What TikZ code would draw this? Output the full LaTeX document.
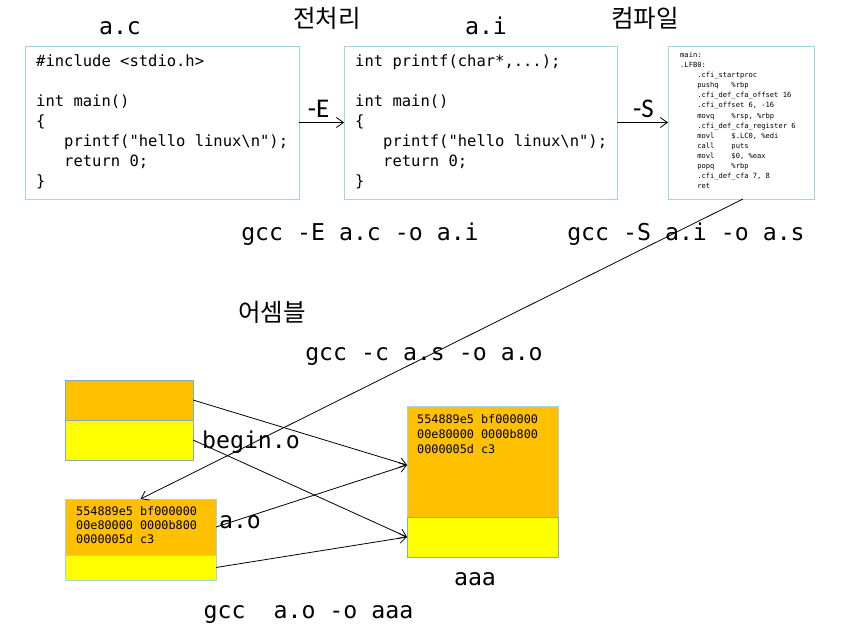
\documentclass[tikz,border=0pt]{standalone}
\usepackage{fontspec}
\newfontfamily\cons{DejaVu Sans Mono}
\newfontfamily\krfont{Noto Sans CJK KR}
\newfontfamily\calib{Carlito}
\usetikzlibrary{arrows.meta}
\definecolor{boxblue}{HTML}{A5D5E2}
\definecolor{boxgray}{HTML}{8FA8B8}
\definecolor{orng}{HTML}{FFC000}
\definecolor{yel}{HTML}{FFFF00}
\newcommand\tb[1]{\begin{tabular}[t]{@{}l@{}}#1\end{tabular}}
\begin{document}
\begin{tikzpicture}[x=1pt,y=-1pt,
  box/.style={draw=boxblue, line width=0.9pt, fill=white, inner sep=0pt, outer sep=0pt, anchor=north west},
  codetxt/.style={inner sep=0pt, anchor=base west, font=\cons\fontsize{15.5}{20}\selectfont},
  asmtxt/.style={inner sep=0pt, anchor=base west, font=\cons\fontsize{7.1}{10.1}\selectfont},
  hextxt/.style={inner sep=0pt, anchor=base west, font=\cons\fontsize{11.8}{14}\selectfont},
  title/.style={inner sep=0pt, anchor=base, font=\cons\fontsize{23.2}{28}\selectfont},
  krlabel/.style={inner sep=0pt, font=\krfont\fontsize{24.5}{28}\selectfont},
  flag/.style={inner sep=0pt, anchor=base, font=\calib\fontsize{27}{30}\selectfont},
  arr/.style={line width=0.8pt, -{Straight Barb[length=7pt,width=10pt]}}
]
\useasboundingbox[fill=white] (0,0) rectangle (857,631);

% top boxes
\node[box, minimum width=274pt, minimum height=153pt] (ac) at (25,46) {};
\node[box, minimum width=273pt, minimum height=153pt] (ai) at (344,46) {};
\node[box, minimum width=146pt, minimum height=153pt] (as) at (668,46) {};

\node[codetxt] (actext) at (36,67) {\tb{\#include <stdio.h>\\ \\ int main()\\ \{\\ \phantom{xxx}printf("hello linux\textbackslash n");\\ \phantom{xxx}return 0;\\ \}}};
\node[codetxt] (aitext) at (355,67) {\tb{int printf(char*,...);\\ \\ int main()\\ \{\\ \phantom{xxx}printf("hello linux\textbackslash n");\\ \phantom{xxx}return 0;\\ \}}};
\node[asmtxt] (astext) at (680,57.5) {\tb{main:\\ .LFB0:\\
\phantom{xxxx}.cfi\_startproc\\
\phantom{xxxx}pushq\phantom{xxx}\%rbp\\
\phantom{xxxx}.cfi\_def\_cfa\_offset 16\\
\phantom{xxxx}.cfi\_offset 6, -16\\
\phantom{xxxx}movq\phantom{xxxx}\%rsp, \%rbp\\
\phantom{xxxx}.cfi\_def\_cfa\_register 6\\
\phantom{xxxx}movl\phantom{xxxx}\$.LC0, \%edi\\
\phantom{xxxx}call\phantom{xxxx}puts\\
\phantom{xxxx}movl\phantom{xxxx}\$0, \%eax\\
\phantom{xxxx}popq\phantom{xxxx}\%rbp\\
\phantom{xxxx}.cfi\_def\_cfa 7, 8\\
\phantom{xxxx}ret}};

% titles and labels
\node[title] (tac) at (120,35) {a.c};
\node[title] (tai) at (486,35) {a.i};
\node[krlabel] (pre) at (327,18) {전처리};
\node[krlabel] (comp) at (645,18) {컴파일};
\node[flag] (flagE) at (318.5,118) {-E};
\node[flag] (flagS) at (643.5,118) {-S};
\node[title] (cmdE) at (360,241) {gcc -E a.c -o a.i};
\node[title] (cmdS) at (686,241) {gcc -S a.i -o a.s};
\node[krlabel] (asm) at (272,312) {어셈블};
\node[title] (cmdc) at (424,360) {gcc -c a.s -o a.o};

% bottom boxes
\node[box, draw=boxgray, fill=orng, minimum width=128pt, minimum height=40pt] (bO) at (65,380) {};
\node[box, draw=boxgray, fill=yel, minimum width=128pt, minimum height=40pt] (bY) at (65,420) {};
\node[box, fill=orng, minimum width=151pt, minimum height=56pt] (aoO) at (65,499) {};
\node[box, fill=yel, minimum width=151pt, minimum height=25pt] (aoY) at (65,555) {};
\node[box, fill=orng, minimum width=151pt, minimum height=111pt] (aaaO) at (407,406) {};
\node[box, draw=boxgray, fill=yel, minimum width=151pt, minimum height=40pt] (aaaY) at (407,517) {};

\node[hextxt] (hexA) at (76,515.7) {\tb{554889e5 bf000000\\ 00e80000 0000b800\\ 0000005d c3}};
\node[hextxt, font=\cons\fontsize{11.8}{15}\selectfont] (hexB) at (417,423.3) {\tb{554889e5 bf000000\\ 00e80000 0000b800\\ 0000005d c3}};

\node[title] (lbegin) at (251,448) {begin.o};
\node[title] (lao) at (240,528) {a.o};
\node[title] (laaa) at (475,585) {aaa};
\node[title] (cmdl) at (308.5,618) {gcc\ \ a.o -o aaa};

% connectors
\draw[arr] (ac.east) -- (ai.west);
\draw[arr] (ai.east) -- (as.west);
\draw[arr] ([xshift=2pt]as.south) -- (aoO.north);
\draw[arr] (bO.east) -- ([yshift=-3.5pt]aaaO.west);
\draw[arr] (bY.east) -- (aaaY.west);
\draw[arr] (aoO.east) -- ([yshift=-3.5pt]aaaO.west);
\draw[arr] (aoY.east) -- (aaaY.west);
\end{tikzpicture}
\end{document}
